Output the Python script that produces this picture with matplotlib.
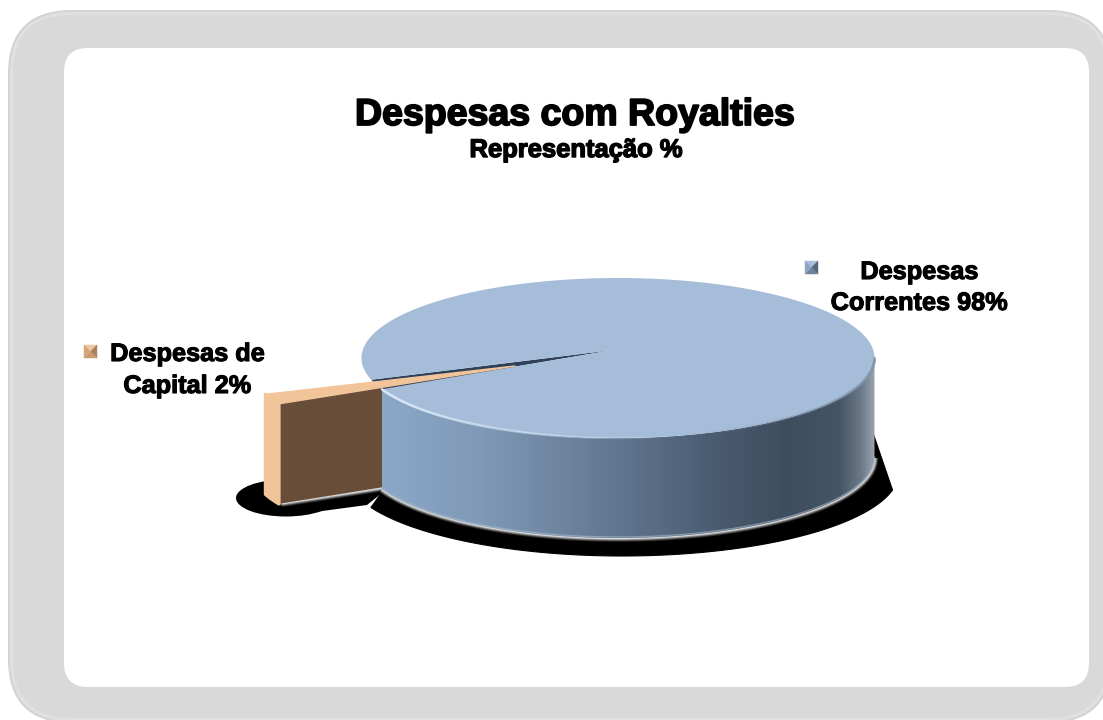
import numpy as np
import matplotlib
matplotlib.use("Agg")
import matplotlib.pyplot as plt
import matplotlib.patheffects as pe
from matplotlib.collections import LineCollection
from matplotlib.colors import LinearSegmentedColormap, to_rgb
from matplotlib.patches import FancyBboxPatch, Polygon, Ellipse

# Chart content
title = "Despesas com Royalties"
subtitle = "Representação %"
categories = ["Despesas Correntes", "Despesas de Capital"]
shares = [98, 2]

W, H = 1103, 720
plt.rcParams["font.family"] = ["Liberation Sans", "DejaVu Sans"]
fig = plt.figure(figsize=(W / 100, H / 100), dpi=100, facecolor="white")
ax = fig.add_axes([0, 0, 1, 1])


def rounded(x0, y0, x1, y1, r, color, z):
    ax.add_patch(FancyBboxPatch((x0, y0), x1 - x0, y1 - y0,
                                boxstyle=f"round,pad=0,rounding_size={r}",
                                fc=color, ec="none", zorder=z))


# Frame: grey rounded border with a soft outer edge around the white panel
rounded(8, 10, 1112, 723, 64, "#d3d3d3", 1)
rounded(10, 12, 1110, 721, 62, "#e0e0e0", 1.1)
rounded(13, 15, 1107, 718, 59, "#d9d9d9", 1.2)
rounded(64, 48, 1089, 687, 24, "white", 1.3)

# Pie geometry (screen units, y grows downward)
cx, cy, rx, ry = 618, 358, 256.5, 80
depth = 100
apex = (613, 350)
tip = (515, 366)
blue_start = 203.0
orange_start = 200.0
orange_scale = 1.035

blue_span = shares[0] / sum(shares) * 360
orange_span = shares[1] / sum(shares) * 360


def rim(deg, scale=1.0, x0=cx, y0=cy):
    t = np.radians(deg)
    return np.column_stack([x0 + rx * scale * np.cos(t), y0 - ry * scale * np.sin(t)])


def fading_line(points, color, width, a_start, a_end, z):
    # Polyline whose opacity changes gradually along its length
    segs = np.stack([points[:-1], points[1:]], axis=1)
    rgb = to_rgb(color)
    alphas = np.linspace(a_start, a_end, len(segs))
    ax.add_collection(LineCollection(segs, colors=[(*rgb, a) for a in alphas],
                                     linewidths=width, zorder=z, capstyle="round"))


side_angles = np.linspace(blue_start, 360, 200)
top_arc = rim(side_angles)
bottom_arc = top_arc + [0, depth]

# Drop shadow below the large slice
shadow_t = np.linspace(blue_start + 2, 347.6, 160)
t_rad = np.radians(shadow_t)
shadow_curve = np.column_stack([622 + 277 * np.cos(t_rad), 472 - 84 * np.sin(t_rad)])
shadow_pts = np.vstack([bottom_arc[:2], shadow_curve, [[872, 430]]])
ax.add_patch(Polygon(shadow_pts, closed=True, fc="black", ec="black", lw=0.8, zorder=2))

# Drop shadow below the small slice
ax.add_patch(Ellipse((286, 498), 100, 37, fc="black", ec="none", zorder=2))
ax.add_patch(Polygon([(285, 516), (367, 505), (392, 485), (283, 490)], closed=True,
                     fc="black", ec="none", zorder=2))

# Soft light edge fading into the shadows
for lw, shade in [(5.5, "#2a2a2a"), (4.2, "#5c5c5c"), (3.0, "#999999"), (1.8, "#d5d5d5")]:
    ax.plot(bottom_arc[:, 0], bottom_arc[:, 1], color=shade, lw=lw,
            solid_capstyle="butt", zorder=2.2)
    ax.plot([272, 283, 386], [492, 503, 487], color=shade, lw=lw,
            solid_joinstyle="round", solid_capstyle="butt", zorder=2.2)

# Small slice: cut face and outer rounded side
o_angles = np.linspace(orange_start, orange_start + orange_span, 12)
o_arc = rim(o_angles, orange_scale, x0=tip[0], y0=tip[1])
corner_a, corner_b = o_arc[0], o_arc[-1]
ax.add_patch(Polygon([corner_b, tip, (tip[0], tip[1] + depth), corner_b + [0, depth]],
                     closed=True, fc="#684e38", ec="none", zorder=3))
ax.add_patch(Polygon(np.vstack([o_arc, (o_arc + [0, depth])[::-1]]), closed=True,
                     fc="#f0c59c", ec="#f0c59c", lw=2.5, joinstyle="round", zorder=3.1))

# Large slice: outer side with horizontal shading
side_cmap = LinearSegmentedColormap.from_list("side", [
    (0.00, "#8ba8c8"), (0.20, "#7f99b6"), (0.45, "#647a94"), (0.65, "#4d5f75"),
    (0.82, "#3e4d5e"), (0.93, "#465565"), (0.975, "#6c7a8a"), (1.00, "#98a3ae")])
side_patch = Polygon(np.vstack([top_arc, bottom_arc[::-1]]), closed=True,
                     fc="none", ec="none", zorder=3.5)
ax.add_patch(side_patch)
ramp = np.linspace(0, 1, 512).reshape(1, -1)
side_img = ax.imshow(ramp, cmap=side_cmap, aspect="auto", zorder=3.5,
                     interpolation="bilinear",
                     extent=(top_arc[:, 0].min(), top_arc[:, 0].max(), H, 0))
side_img.set_clip_path(side_patch)

# Thin lighter line on the lower rim of the side
ax.plot(bottom_arc[:, 0], bottom_arc[:, 1] - 1, color="#a9bace", lw=1.0, alpha=0.6, zorder=3.6)

# Dark gap left where the small slice was pulled out
gap_arc = rim(np.linspace(blue_start - orange_span, blue_start, 8))
ax.add_patch(Polygon(np.vstack([apex, gap_arc]), closed=True,
                     fc="#2f4059", ec="none", zorder=3.7))

# Small slice: top face, tucked under the edge of the large one
ax.add_patch(Polygon(np.vstack([tip, o_arc]), closed=True, fc="#f2c49a", ec="#f2c49a",
                     lw=1.0, joinstyle="round", zorder=3.9))

# Large slice: top face
blue_angles = np.linspace(blue_start, blue_start + blue_span, 500)
blue_top = np.vstack([apex, rim(blue_angles)])
ax.add_patch(Polygon(blue_top, closed=True, fc="#a6bdda", ec="none", zorder=4))

# Bevel highlights along the front rim of the top face
fading_line(rim(np.linspace(blue_start, 285, 140)), "#d9e8fa", 1.8, 0.85, 0.0, 4.1)
fading_line(rim(np.linspace(285, 360, 100)), "#7f93ab", 2.0, 0.0, 0.6, 4.1)

# Titles
ax.text(575, 115, title, fontsize=27, fontweight="bold", ha="center", va="center",
        color="black", path_effects=[pe.withStroke(linewidth=1.3, foreground="black")],
        zorder=6)
ax.text(576, 150, subtitle, fontsize=18.4, fontweight="bold", ha="center", va="center",
        color="black", path_effects=[pe.withStroke(linewidth=1.0, foreground="black")],
        zorder=6)


# Data labels, split on two lines
def label(cat, val, split_at, x, y0, y1):
    words = cat.split()
    line1 = " ".join(words[:split_at])
    line2 = " ".join(words[split_at:]) + f" {val}%"
    for text, yy in ((line1, y0), (line2, y1)):
        ax.text(x, yy, text, fontsize=18.2, fontweight="bold", ha="center", va="center",
                color="black", path_effects=[pe.withStroke(linewidth=0.8, foreground="black")],
                zorder=6)


# Small square legend keys with bevelled facets
def marker(x0, y0, s, light, mid, dark, shade):
    c = (x0 + s / 2, y0 + s / 2)
    a, b, d, e = (x0, y0), (x0 + s, y0), (x0 + s, y0 + s), (x0, y0 + s)
    for pts, col in (((a, b, c), light), ((b, d, c), dark), ((d, e, c), shade), ((e, a, c), mid)):
        ax.add_patch(Polygon(pts, closed=True, fc=col, ec=col, lw=0.3, zorder=6))


label(categories[0], shares[0], 1, 919, 272, 303)
label(categories[1], shares[1], 2, 187, 354, 386)
marker(805, 261, 13, "#a9c0dc", "#8ea6c2", "#55677c", "#6f8298")
marker(84, 345, 13, "#edc7a0", "#d5a47a", "#a97f5c", "#c89a72")

ax.set_xlim(0, W)
ax.set_ylim(H, 0)
ax.axis("off")
fig.savefig("out.png", dpi=100, facecolor="white")
